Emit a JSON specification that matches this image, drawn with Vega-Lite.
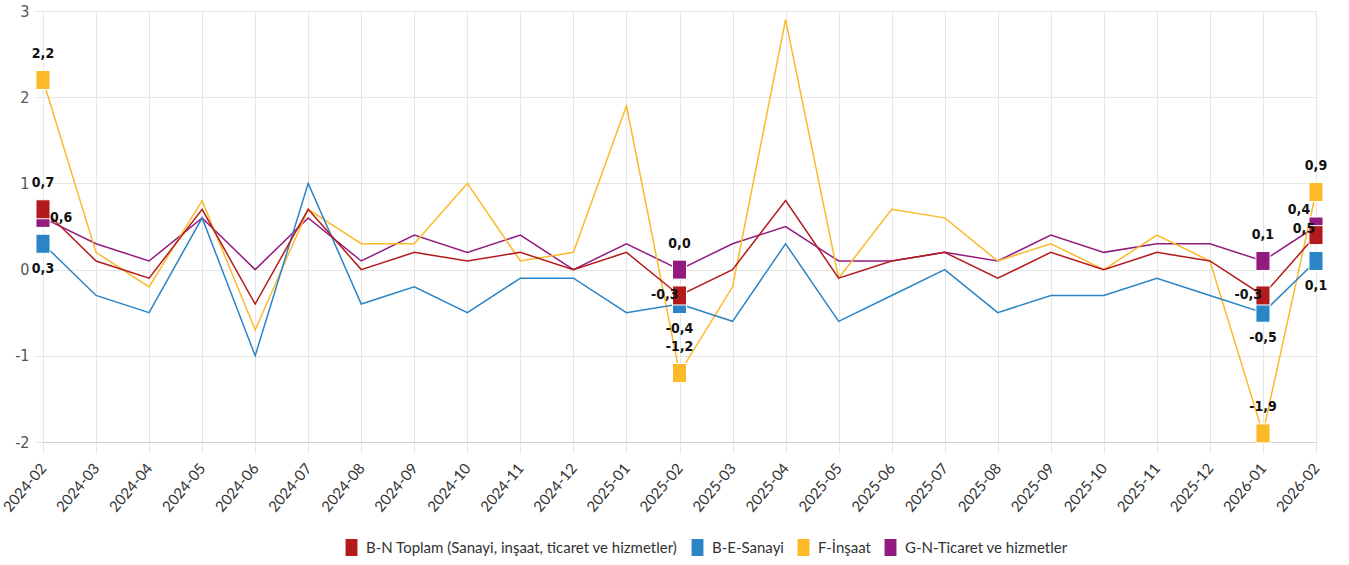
{
  "$schema": "https://vega.github.io/schema/vega-lite/v6.json",
  "width": 1273,
  "height": 431,
  "autosize": {"type": "none"},
  "padding": {"left": 43, "top": 11, "right": 33, "bottom": 123},
  "background": "white",
  "config": {"view": {"stroke": null}},
  "datasets": {
    "names": [
      {"s": "BN", "name": "B-N Toplam (Sanayi, inşaat, ticaret ve hizmetler)"},
      {"s": "BE", "name": "B-E-Sanayi"},
      {"s": "F", "name": "F-İnşaat"},
      {"s": "GN", "name": "G-N-Ticaret ve hizmetler"}
    ]
  },
  "data": {
    "values": [
      {"m": "2024-02", "s": "GN", "v": 0.6, "l": "0,6"},
      {"m": "2024-03", "s": "GN", "v": 0.3},
      {"m": "2024-04", "s": "GN", "v": 0.1},
      {"m": "2024-05", "s": "GN", "v": 0.6},
      {"m": "2024-06", "s": "GN", "v": 0.0},
      {"m": "2024-07", "s": "GN", "v": 0.6},
      {"m": "2024-08", "s": "GN", "v": 0.1},
      {"m": "2024-09", "s": "GN", "v": 0.4},
      {"m": "2024-10", "s": "GN", "v": 0.2},
      {"m": "2024-11", "s": "GN", "v": 0.4},
      {"m": "2024-12", "s": "GN", "v": 0.0},
      {"m": "2025-01", "s": "GN", "v": 0.3},
      {"m": "2025-02", "s": "GN", "v": 0.0, "l": "0,0"},
      {"m": "2025-03", "s": "GN", "v": 0.3},
      {"m": "2025-04", "s": "GN", "v": 0.5},
      {"m": "2025-05", "s": "GN", "v": 0.1},
      {"m": "2025-06", "s": "GN", "v": 0.1},
      {"m": "2025-07", "s": "GN", "v": 0.2},
      {"m": "2025-08", "s": "GN", "v": 0.1},
      {"m": "2025-09", "s": "GN", "v": 0.4},
      {"m": "2025-10", "s": "GN", "v": 0.2},
      {"m": "2025-11", "s": "GN", "v": 0.3},
      {"m": "2025-12", "s": "GN", "v": 0.3},
      {"m": "2026-01", "s": "GN", "v": 0.1, "l": "0,1"},
      {"m": "2026-02", "s": "GN", "v": 0.5, "l": "0,4"},

      {"m": "2024-02", "s": "F", "v": 2.2, "l": "2,2"},
      {"m": "2024-03", "s": "F", "v": 0.2},
      {"m": "2024-04", "s": "F", "v": -0.2},
      {"m": "2024-05", "s": "F", "v": 0.8},
      {"m": "2024-06", "s": "F", "v": -0.7},
      {"m": "2024-07", "s": "F", "v": 0.7},
      {"m": "2024-08", "s": "F", "v": 0.3},
      {"m": "2024-09", "s": "F", "v": 0.3},
      {"m": "2024-10", "s": "F", "v": 1.0},
      {"m": "2024-11", "s": "F", "v": 0.1},
      {"m": "2024-12", "s": "F", "v": 0.2},
      {"m": "2025-01", "s": "F", "v": 1.9},
      {"m": "2025-02", "s": "F", "v": -1.2, "l": "-1,2"},
      {"m": "2025-03", "s": "F", "v": -0.2},
      {"m": "2025-04", "s": "F", "v": 2.9},
      {"m": "2025-05", "s": "F", "v": -0.1},
      {"m": "2025-06", "s": "F", "v": 0.7},
      {"m": "2025-07", "s": "F", "v": 0.6},
      {"m": "2025-08", "s": "F", "v": 0.1},
      {"m": "2025-09", "s": "F", "v": 0.3},
      {"m": "2025-10", "s": "F", "v": 0.0},
      {"m": "2025-11", "s": "F", "v": 0.4},
      {"m": "2025-12", "s": "F", "v": 0.1},
      {"m": "2026-01", "s": "F", "v": -1.9, "l": "-1,9"},
      {"m": "2026-02", "s": "F", "v": 0.9, "l": "0,9"},

      {"m": "2024-02", "s": "BE", "v": 0.3, "l": "0,3"},
      {"m": "2024-03", "s": "BE", "v": -0.3},
      {"m": "2024-04", "s": "BE", "v": -0.5},
      {"m": "2024-05", "s": "BE", "v": 0.6},
      {"m": "2024-06", "s": "BE", "v": -1.0},
      {"m": "2024-07", "s": "BE", "v": 1.0},
      {"m": "2024-08", "s": "BE", "v": -0.4},
      {"m": "2024-09", "s": "BE", "v": -0.2},
      {"m": "2024-10", "s": "BE", "v": -0.5},
      {"m": "2024-11", "s": "BE", "v": -0.1},
      {"m": "2024-12", "s": "BE", "v": -0.1},
      {"m": "2025-01", "s": "BE", "v": -0.5},
      {"m": "2025-02", "s": "BE", "v": -0.4, "l": "-0,4"},
      {"m": "2025-03", "s": "BE", "v": -0.6},
      {"m": "2025-04", "s": "BE", "v": 0.3},
      {"m": "2025-05", "s": "BE", "v": -0.6},
      {"m": "2025-06", "s": "BE", "v": -0.3},
      {"m": "2025-07", "s": "BE", "v": 0.0},
      {"m": "2025-08", "s": "BE", "v": -0.5},
      {"m": "2025-09", "s": "BE", "v": -0.3},
      {"m": "2025-10", "s": "BE", "v": -0.3},
      {"m": "2025-11", "s": "BE", "v": -0.1},
      {"m": "2025-12", "s": "BE", "v": -0.3},
      {"m": "2026-01", "s": "BE", "v": -0.5, "l": "-0,5"},
      {"m": "2026-02", "s": "BE", "v": 0.1, "l": "0,1"},

      {"m": "2024-02", "s": "BN", "v": 0.7, "l": "0,7"},
      {"m": "2024-03", "s": "BN", "v": 0.1},
      {"m": "2024-04", "s": "BN", "v": -0.1},
      {"m": "2024-05", "s": "BN", "v": 0.7},
      {"m": "2024-06", "s": "BN", "v": -0.4},
      {"m": "2024-07", "s": "BN", "v": 0.7},
      {"m": "2024-08", "s": "BN", "v": 0.0},
      {"m": "2024-09", "s": "BN", "v": 0.2},
      {"m": "2024-10", "s": "BN", "v": 0.1},
      {"m": "2024-11", "s": "BN", "v": 0.2},
      {"m": "2024-12", "s": "BN", "v": 0.0},
      {"m": "2025-01", "s": "BN", "v": 0.2},
      {"m": "2025-02", "s": "BN", "v": -0.3, "l": "-0,3"},
      {"m": "2025-03", "s": "BN", "v": 0.0},
      {"m": "2025-04", "s": "BN", "v": 0.8},
      {"m": "2025-05", "s": "BN", "v": -0.1},
      {"m": "2025-06", "s": "BN", "v": 0.1},
      {"m": "2025-07", "s": "BN", "v": 0.2},
      {"m": "2025-08", "s": "BN", "v": -0.1},
      {"m": "2025-09", "s": "BN", "v": 0.2},
      {"m": "2025-10", "s": "BN", "v": 0.0},
      {"m": "2025-11", "s": "BN", "v": 0.2},
      {"m": "2025-12", "s": "BN", "v": 0.1},
      {"m": "2026-01", "s": "BN", "v": -0.3, "l": "-0,3"},
      {"m": "2026-02", "s": "BN", "v": 0.4, "l": "0,5"}
    ]
  },
  "transform": [
    {"lookup": "s", "from": {"data": {"name": "names"}, "key": "s", "fields": ["name"]}}
  ],
  "encoding": {
    "x": {
      "field": "m",
      "type": "ordinal",
      "sort": null,
      "scale": {"type": "point", "padding": 0},
      "axis": {
        "title": null,
        "grid": true,
        "gridColor": "#e6e6e6",
        "domain": true,
        "domainColor": "#cfcfcf",
        "ticks": true,
        "tickSize": 11,
        "tickColor": "#e6e6e6",
        "labelAngle": -50,
        "labelAlign": "right",
        "labelBaseline": "middle",
        "labelPadding": 12,
        "labelFont": "Lato",
        "labelFontSize": 15,
        "labelColor": "#333333"
      }
    },
    "y": {
      "field": "v",
      "type": "quantitative",
      "scale": {"domain": [-2, 3], "nice": false},
      "axis": {
        "title": null,
        "values": [-2, -1, 0, 1, 2, 3],
        "labelExpr": "'' + datum.value",
        "domain": false,
        "grid": true,
        "gridColor": "#e6e6e6",
        "ticks": true,
        "tickSize": 8,
        "tickColor": "#e6e6e6",
        "labelPadding": 6,
        "labelFont": "Liberation Sans Narrow, DejaVu Sans Condensed, Roboto",
        "labelFontSize": 16,
        "labelColor": "#555555"
      }
    },
    "color": {
      "field": "name",
      "type": "nominal",
      "scale": {
        "domain": ["B-N Toplam (Sanayi, inşaat, ticaret ve hizmetler)", "B-E-Sanayi", "F-İnşaat", "G-N-Ticaret ve hizmetler"],
        "range": ["#b31a1c", "#2b84c6", "#fcb928", "#931b80"]
      },
      "legend": {
        "title": null,
        "orient": "none",
        "legendX": 300,
        "legendY": 528,
        "direction": "horizontal",
        "columns": 4,
        "padding": 0,
        "columnPadding": 11,
        "symbolType": "M-0.7,-1H0.7V1H-0.7Z",
        "symbolSize": 289,
        "symbolStrokeWidth": 0,
        "symbolOpacity": 1,
        "labelOffset": 6,
        "labelFont": "Lato",
        "labelFontSize": 15,
        "labelColor": "#333333",
        "labelLimit": 500
      }
    }
  },
  "layer": [
    {"mark": {"type": "line", "strokeWidth": 1.5}},
    {
      "transform": [{"filter": "datum.l != null"}],
      "mark": {"type": "point", "shape": "M-0.74,-1H0.74V1H-0.74Z", "size": 361, "filled": true, "opacity": 1, "stroke": "#ffffff", "strokeWidth": 1}
    },
    {
      "transform": [{"filter": "datum.l != null && ((datum.s == 'F') || (datum.s == 'GN' && datum.m != '2024-02' && datum.m != '2026-02') || (datum.s == 'BN' && datum.m == '2024-02'))"}],
      "mark": {"type": "text", "dy": -26, "font": "Liberation Sans Narrow, DejaVu Sans Condensed, Roboto", "fontWeight": "bold", "fontSize": 14},
      "encoding": {"text": {"field": "l"}, "color": {"value": "#111111"}}
    },
    {
      "transform": [{"filter": "datum.l != null && datum.s == 'BE'"}],
      "mark": {"type": "text", "dy": 25, "font": "Liberation Sans Narrow, DejaVu Sans Condensed, Roboto", "fontWeight": "bold", "fontSize": 14},
      "encoding": {"text": {"field": "l"}, "color": {"value": "#111111"}}
    },
    {
      "transform": [{"filter": "datum.l != null && datum.s == 'BN' && datum.m != '2024-02' && datum.m != '2026-02'"}],
      "mark": {"type": "text", "align": "right", "dx": -1, "font": "Liberation Sans Narrow, DejaVu Sans Condensed, Roboto", "fontWeight": "bold", "fontSize": 14},
      "encoding": {"text": {"field": "l"}, "color": {"value": "#111111"}}
    },
    {
      "transform": [{"filter": "datum.l != null && datum.s == 'GN' && datum.m == '2024-02'"}],
      "mark": {"type": "text", "align": "left", "dx": 7, "font": "Liberation Sans Narrow, DejaVu Sans Condensed, Roboto", "fontWeight": "bold", "fontSize": 14},
      "encoding": {"text": {"field": "l"}, "color": {"value": "#111111"}}
    },
    {
      "transform": [{"filter": "datum.l != null && datum.s == 'GN' && datum.m == '2026-02'"}],
      "mark": {"type": "text", "dx": -17, "dy": -17, "font": "Liberation Sans Narrow, DejaVu Sans Condensed, Roboto", "fontWeight": "bold", "fontSize": 14},
      "encoding": {"text": {"field": "l"}, "color": {"value": "#111111"}}
    },
    {
      "transform": [{"filter": "datum.l != null && datum.s == 'BN' && datum.m == '2026-02'"}],
      "mark": {"type": "text", "dx": -12, "dy": -6, "font": "Liberation Sans Narrow, DejaVu Sans Condensed, Roboto", "fontWeight": "bold", "fontSize": 14},
      "encoding": {"text": {"field": "l"}, "color": {"value": "#111111"}}
    }
  ]
}
